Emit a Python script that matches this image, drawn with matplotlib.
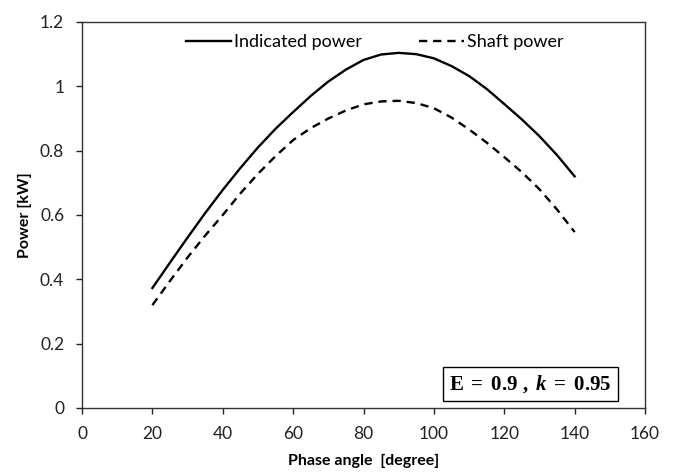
import matplotlib
matplotlib.use("Agg")
import matplotlib.pyplot as plt

phase_angle = [20, 25, 30, 35, 40, 45, 50, 55, 60, 65, 70, 75, 80, 85, 90,
               95, 100, 105, 110, 115, 120, 125, 130, 135, 140]
indicated_power = [0.373, 0.452, 0.530, 0.606, 0.678, 0.746, 0.810, 0.868, 0.920,
                   0.970, 1.015, 1.052, 1.082, 1.099, 1.104, 1.100, 1.087, 1.063,
                   1.032, 0.992, 0.945, 0.897, 0.845, 0.786, 0.720]
shaft_power = [0.320, 0.395, 0.468, 0.536, 0.600, 0.667, 0.728, 0.783, 0.833,
               0.870, 0.900, 0.925, 0.944, 0.953, 0.955, 0.948, 0.932, 0.903,
               0.866, 0.825, 0.780, 0.733, 0.680, 0.617, 0.547]
x_ticks = [0, 20, 40, 60, 80, 100, 120, 140, 160]
y_ticks = [0, 0.2, 0.4, 0.6, 0.8, 1.0, 1.2]
y_tick_labels = ["0", "0.2", "0.4", "0.6", "0.8", "1", "1.2"]

plt.rcParams['font.family'] = ['Lato', 'DejaVu Sans']
plt.rcParams['mathtext.fontset'] = 'custom'
plt.rcParams['mathtext.rm'] = 'Liberation Serif'
plt.rcParams['mathtext.bf'] = 'Liberation Serif:bold'
plt.rcParams['mathtext.it'] = 'Liberation Serif:italic'
plt.rcParams['mathtext.bfit'] = 'Liberation Serif:italic:bold'

fig = plt.figure(figsize=(6.75, 4.72), dpi=100)
ax = fig.add_axes([0.1215, 0.1356, 0.8341, 0.8178])

ax.plot(phase_angle, indicated_power, color='black', lw=1.7, label='Indicated power')
ax.plot(phase_angle, shaft_power, color='black', lw=1.7, dashes=(3.5, 2.5), label='Shaft power')

ax.set_xlim(0, 160)
ax.set_ylim(0, 1.2)
ax.set_xticks(x_ticks)
ax.set_yticks(y_ticks)
ax.set_yticklabels(y_tick_labels)
ax.tick_params(direction='out', length=4.3, width=1, labelsize=12.5, colors='#222222',
               top=False, right=False, pad=8.5)
for s in ax.spines.values():
    s.set_color('#333333')
    s.set_linewidth(1.0)

ax.set_xlabel('Phase angle  [degree]', fontsize=11.5, fontweight='bold', labelpad=9)
ax.set_ylabel('Power [kW]', fontsize=11.5, fontweight='bold', labelpad=6)

ax.legend(loc='upper center', bbox_to_anchor=(0.52, 1.01), ncol=2, frameon=False,
          fontsize=13, handlelength=2.5, handletextpad=0.15, columnspacing=3.2)

ax.text(0.796, 0.062, r'$\mathbf{E\ =\ 0.9\ ,\ }\mathbfit{k}\mathbf{\ =\ 0.95}$',
        transform=ax.transAxes, ha='center', va='center', fontsize=15,
        bbox=dict(boxstyle='square,pad=0.3', fc='white', ec='black', lw=1.0))

fig.savefig('out.png', dpi=100)
